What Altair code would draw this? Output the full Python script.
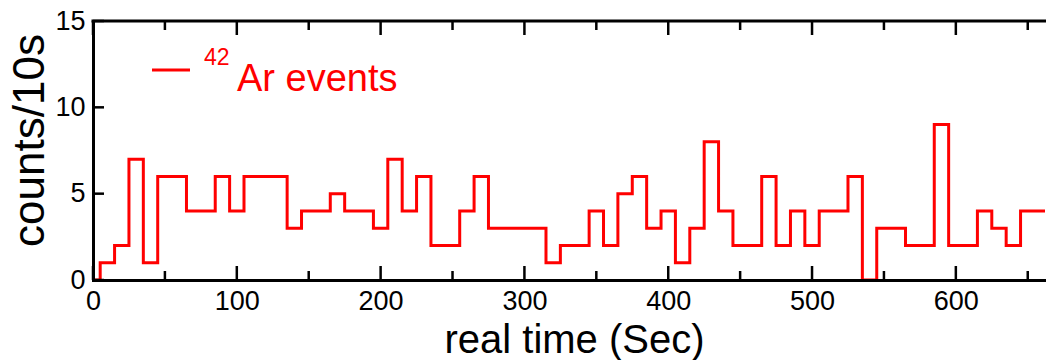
import altair as alt
import pandas as pd

# 42Ar event counts in 10 s bins (bin centres in seconds)
bin_centers = list(range(0, 680, 10))
counts = [0, 1, 2, 7, 1, 6, 6, 4, 4, 6,
          4, 6, 6, 6, 3, 4, 4, 5, 4, 4,
          3, 7, 4, 6, 2, 2, 4, 6, 3, 3,
          3, 3, 1, 2, 2, 4, 2, 5, 6, 3,
          4, 1, 3, 8, 4, 2, 2, 6, 2, 4,
          2, 4, 4, 6, 0, 3, 3, 2, 2, 9,
          2, 2, 4, 3, 2, 4, 4, 4]

# axis ticks and labels
x_major = [0, 100, 200, 300, 400, 500, 600]
x_minor = [50, 150, 250, 350, 450, 550, 650]
y_major = [0, 5, 10, 15]

legend_mass = ["42"]
legend_label = ["Ar events"]

FONT = "Liberation Sans"
RED = "#ff0000"
W, H = 952, 259

xs = alt.Scale(domain=[0, 662], nice=False, zero=False)
ys = alt.Scale(domain=[0, 15], nice=False)

x_axis = alt.Axis(
    values=x_major, ticks=False, tickSize=0, grid=False,
    labelPadding=8, labelFontSize=27, labelFont=FONT, labelColor="black",
    labelFlush=False, labelOverlap=False,
    domainColor="black", domainWidth=3, domainCap="square",
    title="real time (Sec)", titleFont=FONT, titleFontSize=40,
    titleFontWeight="normal", titleColor="black",
    titleX=481, titleY=72, titleBaseline="alphabetic", zindex=1)

y_axis = alt.Axis(
    values=y_major, ticks=False, tickSize=0, grid=False,
    labelPadding=8, labelFontSize=27, labelFont=FONT, labelColor="black",
    labelFlush=False, labelOverlap=False,
    domainColor="black", domainWidth=3, domainCap="square",
    title="counts/10s", titleFont=FONT, titleFontSize=44,
    titleFontWeight="normal", titleColor="black",
    titleX=-50, titleY=119, titleBaseline="alphabetic", zindex=1)

hist = pd.DataFrame({"t": bin_centers, "n": counts})

line = alt.Chart(hist).mark_line(
    interpolate="step", color=RED, strokeWidth=3, clip=True
).encode(
    x=alt.X("t:Q", scale=xs, axis=x_axis),
    y=alt.Y("n:Q", scale=ys, axis=y_axis),
)

# top frame edge
frame = pd.DataFrame({"k": [0]})
top_edge = alt.Chart(frame).mark_rule(
    color="black", strokeWidth=3, strokeCap="square"
).encode(x=alt.value(0), x2=alt.value(W), y=alt.value(0))

# inward-pointing tick marks
xmaj = pd.DataFrame({"t": x_major})
xmin = pd.DataFrame({"t": x_minor})
ymaj = pd.DataFrame({"n": y_major})

def xticks(df, y0, y1):
    return alt.Chart(df).mark_rule(color="black", strokeWidth=2.5).encode(
        x=alt.X("t:Q", scale=xs, axis=x_axis),
        y=alt.value(y0), y2=alt.value(y1))

bottom_major = xticks(xmaj, H, H - 14)
bottom_minor = xticks(xmin, H, H - 9)
top_major = xticks(xmaj, 0, 14)
top_minor = xticks(xmin, 0, 9)

left_ticks = alt.Chart(ymaj).mark_rule(color="black", strokeWidth=2.5).encode(
    y=alt.Y("n:Q", scale=ys, axis=y_axis),
    x=alt.value(0), x2=alt.value(11))

# legend
leg_line = alt.Chart(frame).mark_rule(color=RED, strokeWidth=3).encode(
    x=alt.value(59), x2=alt.value(97), y=alt.value(49))
leg_mass = alt.Chart(pd.DataFrame({"s": legend_mass})).mark_text(
    align="left", baseline="alphabetic", font=FONT, fontSize=23, color=RED
).encode(x=alt.value(111), y=alt.value(44), text="s:N")
leg_text = alt.Chart(pd.DataFrame({"s": legend_label})).mark_text(
    align="left", baseline="alphabetic", font=FONT, fontSize=38, color=RED
).encode(x=alt.value(144), y=alt.value(70), text="s:N")

chart = alt.layer(
    line, top_edge, bottom_major, bottom_minor, top_major, top_minor,
    left_ticks, leg_line, leg_mass, leg_text
).properties(
    width=W, height=H,
    autosize=alt.AutoSizeParams(type="none"),
    padding={"left": 93, "top": 21, "right": 1, "bottom": 80},
    background="white",
).configure_view(stroke=None)

chart.save("out.html", embed_options={"renderer": "svg", "actions": False})
